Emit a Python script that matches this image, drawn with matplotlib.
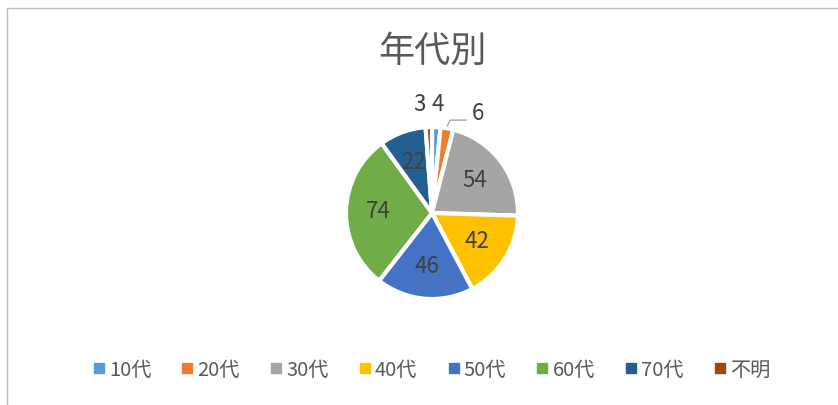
import matplotlib.pyplot as plt
from matplotlib.lines import Line2D
from matplotlib.patches import Rectangle
import numpy as np

plt.rcParams['font.family'] = ['Noto Sans CJK JP', 'DejaVu Sans']

categories = ['10代', '20代', '30代', '40代', '50代', '60代', '70代', '不明']
values = [4, 6, 54, 42, 46, 74, 22, 3]
colors = ['#5B9BD5', '#ED7D31', '#A5A5A5', '#FFC000', '#4472C4', '#70AD47', '#255E91', '#9E480E']

W, H = 838, 405
fig = plt.figure(figsize=(W / 100, H / 100), dpi=100)

# chart border (only top/left visible in the crop)
fig.patches.append(Rectangle((7 / W, -0.05), 1.0, (H - 8) / H + 0.05, transform=fig.transFigure,
                             fill=False, edgecolor='#BFBFBF', linewidth=1))

R = 86
cx, cy = 432, H - 213
ax = fig.add_axes([(cx - R) / W, (cy - R) / H, 2 * R / W, 2 * R / H])
wedges, _ = ax.pie(values, colors=colors, startangle=90, counterclock=False,
                   wedgeprops=dict(edgecolor='white', linewidth=3))
ax.set_xlim(-1, 1)
ax.set_ylim(-1, 1)
ax.axis('off')

lab_col = '#404040'
for w, v, cat in zip(wedges, values, categories):
    mid = np.deg2rad((w.theta1 + w.theta2) / 2)
    if v >= 20:
        r = 0.62
        ax.text(r * np.cos(mid), r * np.sin(mid), str(v), ha='center', va='center',
                fontsize=16, color=lab_col)
    elif cat == '20代':
        # label pulled right with a leader line
        ex, ey = 1.03 * np.cos(mid), 1.03 * np.sin(mid)
        ax.plot([ex, 0.21, 0.4], [ey, 1.08, 1.08], color='#A6A6A6', lw=1, clip_on=False)
        ax.text(0.53, 1.16, str(v), ha='center', va='center', fontsize=16, color=lab_col)
    else:
        r = 1.26
        dx = -0.1 if cat == '不明' else 0.0
        ax.text(r * np.cos(mid) + dx, r * np.sin(mid), str(v), ha='center', va='center',
                fontsize=16, color=lab_col)

fig.text(cx / W, (H - 52) / H, '年代別', ha='center', va='center', fontsize=26, color='#595959')

handles = [Line2D([], [], marker='s', linestyle='none', markersize=7, color=c) for c in colors]
leg = fig.legend(handles, categories, loc='center', bbox_to_anchor=(cx / W, (H - 370) / H),
                 ncol=8, frameon=False, fontsize=14.5, handlelength=0.5, handletextpad=0.25,
                 columnspacing=1.55, labelcolor='#595959')

fig.savefig('out.png', dpi=100)
